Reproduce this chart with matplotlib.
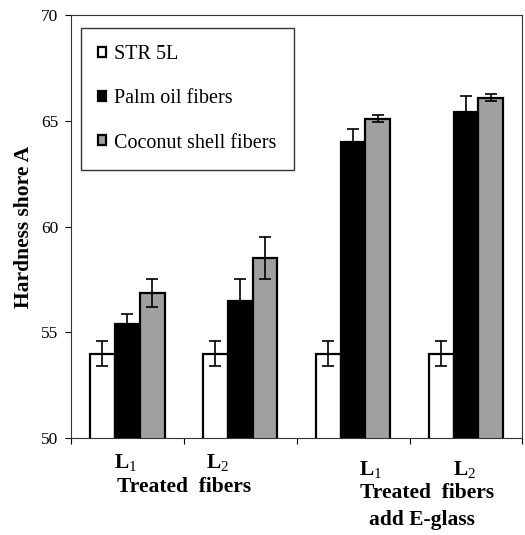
import numpy as np
import matplotlib.pyplot as plt

plt.rcParams['font.family'] = ['Liberation Serif', 'DejaVu Serif']
plt.rcParams['mathtext.fontset'] = 'custom'
plt.rcParams['mathtext.rm'] = 'Liberation Serif'
plt.rcParams['mathtext.bf'] = 'Liberation Serif:bold'

# data
groups = ['L1 treated', 'L2 treated', 'L1 treated + E-glass', 'L2 treated + E-glass']
str5l = [54.0, 54.0, 54.0, 54.0]
str5l_err = [0.6, 0.6, 0.6, 0.6]
palm = [55.4, 56.5, 64.0, 65.4]
palm_err = [0.45, 1.0, 0.6, 0.75]
coconut = [56.85, 58.5, 65.1, 66.1]
coconut_err = [0.65, 1.0, 0.15, 0.15]

fig = plt.figure(figsize=(5.25, 5.35), dpi=100)
ax = fig.add_axes([0.135, 0.181, 0.86, 0.791])

x = np.arange(len(groups))
w = 0.22
ekw = dict(ecolor='black', elinewidth=1.2, capsize=4, capthick=1.2)
ax.bar(x - w, str5l, w, yerr=str5l_err, color='white', edgecolor='black',
       linewidth=1.6, error_kw=ekw, label='STR 5L')
ax.bar(x, palm, w, yerr=palm_err, color='black', edgecolor='black',
       linewidth=1.6, error_kw=ekw, label='Palm oil fibers')
ax.bar(x + w, coconut, w, yerr=coconut_err, color='#a0a0a0', edgecolor='black',
       linewidth=1.6, error_kw=ekw, label='Coconut shell fibers')

ax.set_ylim(50, 70)
ax.set_xlim(-0.5, 3.5)
ax.set_yticks([50, 55, 60, 65, 70])
ax.set_xticks([-0.5, 0.5, 1.5, 2.5, 3.5])
ax.set_xticklabels([])
ax.tick_params(axis='y', labelsize=12.5, length=4, direction='out', pad=5)
ax.tick_params(axis='x', length=4, direction='out')
for s in ax.spines.values():
    s.set_linewidth(0.8)
    s.set_color('#333333')

ax.set_ylabel('Hardness shore A', fontsize=15.5, fontweight='bold', labelpad=5)

leg = ax.legend(loc='upper left', bbox_to_anchor=(0.022, 0.969), fontsize=14.5,
                frameon=True, fancybox=False, edgecolor='black',
                handlelength=0.4, handleheight=0.4, handletextpad=0.4,
                labelspacing=1.25, borderpad=0.85, borderaxespad=0)
leg.get_frame().set_linewidth(1.0)

# category labels under the axis
tr = ax.get_xaxis_transform()
lab = dict(transform=tr, ha='center', va='center', fontsize=15.5, fontweight='bold')
ax.text(-0.015, -0.059, r'$\mathbf{L}_{\mathrm{1}}$', **lab)
ax.text(0.80, -0.059, r'$\mathbf{L}_{\mathrm{2}}$', **lab)
ax.text(0.504, -0.116, 'Treated  fibers', **lab)
ax.text(2.16, -0.076, r'$\mathbf{L}_{\mathrm{1}}$', **lab)
ax.text(2.985, -0.076, r'$\mathbf{L}_{\mathrm{2}}$', **lab)
ax.text(2.66, -0.130, 'Treated  fibers', **lab)
ax.text(2.606, -0.194, 'add E-glass', **lab)

fig.savefig('out.png', dpi=100)
plt.close()
